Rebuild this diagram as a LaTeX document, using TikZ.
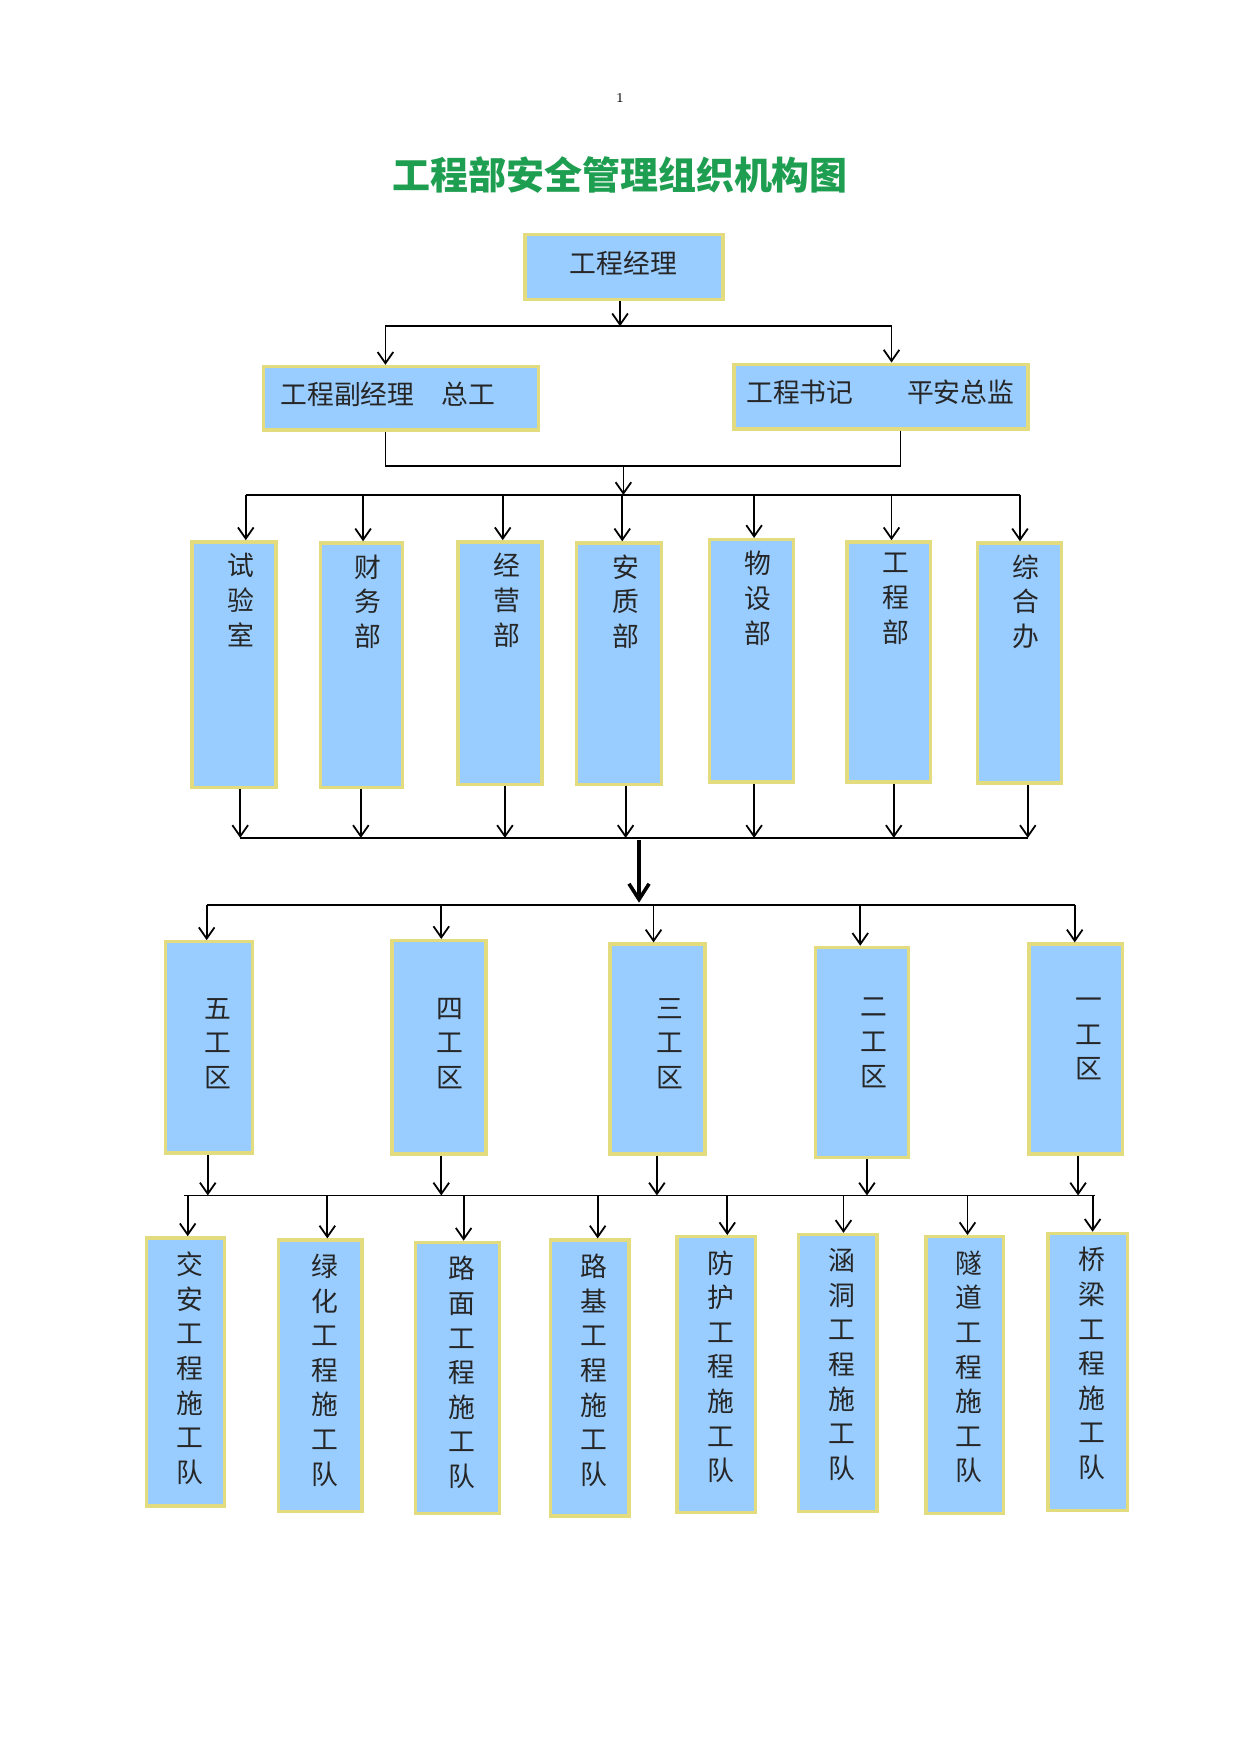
\documentclass[tikz,border=0pt]{standalone}
\usepackage{fontspec}
\newfontfamily\cjk{Noto Sans CJK SC}
\usetikzlibrary{fit,arrows.meta}
\definecolor{boxfill}{HTML}{99CCFF}
\definecolor{boxline}{HTML}{E2DC7E}
\definecolor{titlegreen}{HTML}{1E9E50}
\tikzset{
 box/.style={draw=boxline,line width=1.5pt,fill=boxfill,inner sep=0pt},
 lbl/.style={font=\cjk\fontsize{12}{15.5}\selectfont,align=center,inner sep=0pt,text=black!85},
 conn/.style={line width=0.8pt,-{Straight Barb[length=5pt,width=7pt]}},
 ln/.style={line width=0.8pt}
}
\newcommand{\bx}[5]{\node[box,fit={(#2,#3) (#4,#5)}] (#1) {};}
\begin{document}
\begin{tikzpicture}[x=0.5pt,y=-0.5pt]
\useasboundingbox (0,0) rectangle (1110,1570);
\node[font=\fontsize{6}{7}\selectfont] (pg) at (555,88) {1};
\node[font=\cjk\bfseries\fontsize{17}{20}\selectfont,text=titlegreen] (title) at (555,157) {工程部安全管理组织机构图};
% top
\bx{top}{470}{210}{647}{268}
\node[lbl] (topt) at (558,236) {工程经理};
\bx{a}{236}{328}{482}{385}
\node[lbl] (at) at (347,353) {工程副经理\quad 总工};
\bx{b}{657}{326}{920}{384}
\node[lbl] (bt) at (788,351) {工程书记\qquad 平安总监};
\coordinate (j1) at (555,292);
\draw[conn] (top.south -| j1) -- (j1);
\coordinate (j1l) at (345,292); \coordinate (j1r) at (798,292);
\draw[ln] (j1l) -- (j1r);
\draw[conn] (j1l) -- (j1l |- a.north);
\draw[conn] (j1r) -- (j1r |- b.north);
\coordinate (j2l) at (345,417); \coordinate (j2r) at (806,417); \coordinate (j2) at (558,417);
\draw[ln] (j2l |- a.south) -- (j2l) -- (j2r) -- (j2r |- b.south);
\coordinate (j3) at (558,443);
\draw[conn] (j2) -- (j3);
\coordinate (j3l) at (220,443); \coordinate (j3r) at (913,443);
\draw[ln] (j3l) -- (j3r);
% row3
\foreach \n/\xa/\ya/\xb/\yb/\ax/\bxx/\t in {
 r1/172/485/247/705/220/215/{试\\验\\室},
 r2/287/486/360/705/325/323/{财\\务\\部},
 r3/410/485/485/702/450/452/{经\\营\\部},
 r4/516/486/592/702/557/560/{安\\质\\部},
 r5/635/483/710/700/675/675/{物\\设\\部},
 r6/758/485/833/700/798/800/{工\\程\\部},
 r7/875/486/950/701/913/920/{综\\合\\办}}{
 \bx{\n}{\xa}{\ya}{\xb}{\yb}
 \node[lbl,anchor=north] (\n t) at ({(\xa+\xb)/2+6},{\ya+10}) {\t};
 \coordinate (\n i) at (\ax,443);
 \draw[conn] (\n i) -- (\n i |- \n.north);
 \coordinate (\n o) at (\bxx,750);
 \draw[conn] (\n o |- \n.south) -- (\n o);
}
\coordinate (j4l) at (215,750); \coordinate (j4r) at (920,750);
\draw[ln] (j4l) -- (j4r);
\coordinate (j4) at (572,752); \coordinate (j5) at (572,808);
\draw[line width=1.6pt,-{Straight Barb[length=7pt,width=9pt]}] (j4) -- (j5);
\coordinate (j5l) at (185,810); \coordinate (j5r) at (962,810);
\draw[ln] (j5l) -- (j5r);
% row4
\foreach \n/\xa/\ya/\xb/\yb/\tx/\ax/\bxx/\t in {
 q5/148/843/226/1032/195/185/186/{五\\工\\区},
 q4/351/842/435/1033/403/395/395/{四\\工\\区},
 q3/546/845/631/1033/600/585/588/{三\\工\\区},
 q2/730/848/813/1036/782/770/776/{二\\工\\区},
 q1/921/845/1005/1033/975/962/965/{一\\工\\区}}{
 \bx{\n}{\xa}{\ya}{\xb}{\yb}
 \node[lbl,anchor=north] (\n t) at (\tx,893) {\t};
 \coordinate (\n i) at (\ax,810);
 \draw[conn] (\n i) -- (\n i |- \n.north);
 \coordinate (\n o) at (\bxx,1070);
 \draw[conn] (\n o |- \n.south) -- (\n o);
}
\coordinate (j6l) at (165,1070); \coordinate (j6r) at (980,1070);
\draw[ln] (j6l) -- (j6r);
% row5
\foreach \n/\xa/\ya/\xb/\yb/\ax/\t in {
 s1/131/1108/201/1348/168/{交\\安\\工\\程\\施\\工\\队},
 s2/249/1110/324/1353/293/{绿\\化\\工\\程\\施\\工\\队},
 s3/372/1112/447/1355/415/{路\\面\\工\\程\\施\\工\\队},
 s4/493/1110/563/1357/535/{路\\基\\工\\程\\施\\工\\队},
 s5/606/1107/676/1354/651/{防\\护\\工\\程\\施\\工\\队},
 s6/715/1105/785/1353/755/{涵\\洞\\工\\程\\施\\工\\队},
 s7/829/1107/898/1355/866/{隧\\道\\工\\程\\施\\工\\队},
 s8/938/1104/1009/1352/978/{桥\\梁\\工\\程\\施\\工\\队}}{
 \bx{\n}{\xa}{\ya}{\xb}{\yb}
 \node[lbl,anchor=north] (\n t) at ({(\xa+\xb)/2+4},{\ya+12}) {\t};
 \coordinate (\n i) at (\ax,1070);
 \draw[conn] (\n i) -- (\n i |- \n.north);
}
\end{tikzpicture}
\end{document}
